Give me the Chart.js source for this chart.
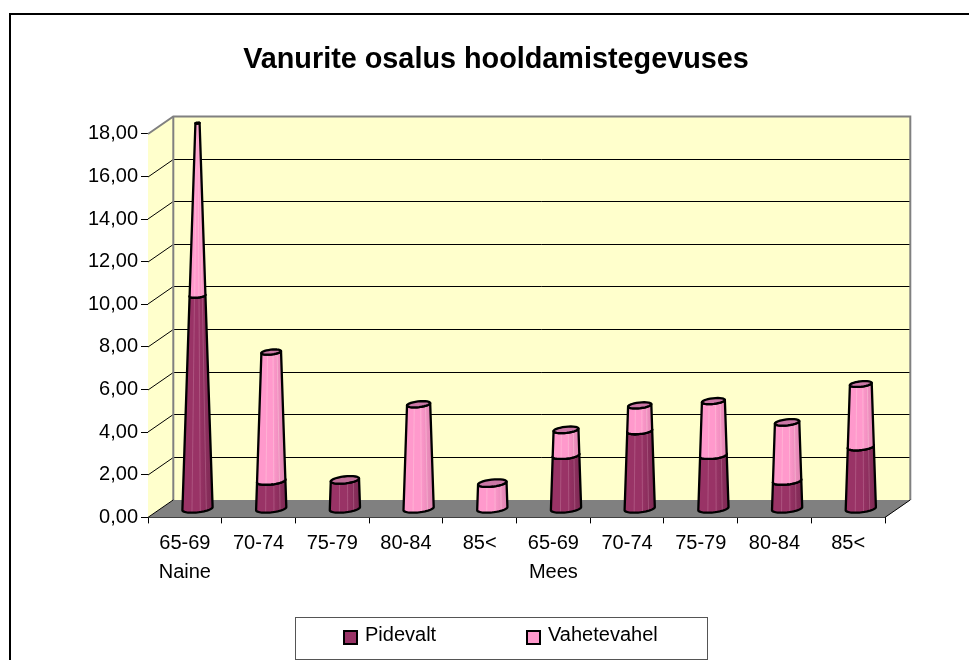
<!DOCTYPE html>
<html><head><meta charset="utf-8">
<style>html,body{margin:0;padding:0;background:#fff}#w{width:969px;height:660px}</style>
<script src="https://cdn.jsdelivr.net/npm/chart.js@4"></script>
</head><body><div id="w"><canvas id="c" width="969" height="660"></canvas></div>
<script>
const ageGroups = ['65-69','70-74','75-79','80-84','85<','65-69','70-74','75-79','80-84','85<'];
const genderLabels = ['Naine','','','','','Mees','','','',''];
const pidevalt = [10.0,1.3,1.35,0,0,2.5,3.65,2.5,1.3,2.9];
const vahetevahel = [8.1,6.05,0,4.9,1.2,1.2,1.2,2.55,2.75,2.95];
const FONT = '"Liberation Sans", Arial, sans-serif';
const labels = ageGroups.map((a,i)=> genderLabels[i] ? [a,genderLabels[i]] : [a]);
const DX = 25.3, DY = -17.5, TAPER = 21, KA = 0.42, KB = 0.29;

function circlePt(cx,cy,r,t){ return [cx + r*Math.cos(t) + r*KA*Math.sin(t), cy - r*KB*Math.sin(t)]; }
function arc(p2,cx,cy,r,a,b,first){
  const n=28;
  for(let i=0;i<=n;i++){ const p=circlePt(cx,cy,r,a+(b-a)*i/n);
    if(i===0&&first) p2.moveTo(p[0],p[1]); else p2.lineTo(p[0],p[1]); }
}
function cylinder(ctx,el,yScale,fromV,toV,col){
  const R = el.width/2, cx = el.x + DX/2;
  const y0 = yScale.getPixelForValue(fromV) + DY/2, y1 = yScale.getPixelForValue(toV) + DY/2;
  const r0 = R*(1-fromV/TAPER), r1 = R*(1-toV/TAPER);
  const t0 = Math.atan(KA);
  ctx.save();
  ctx.lineJoin='round'; ctx.lineWidth=2.3; ctx.strokeStyle='#000';
  const body = new Path2D();
  arc(body,cx,y0,r0,Math.PI+t0,2*Math.PI+t0,true);
  arc(body,cx,y1,r1,2*Math.PI+t0,Math.PI+t0,false);
  body.closePath();
  const g = ctx.createLinearGradient(cx-R,0,cx+R,0);
  g.addColorStop(0,col.body); g.addColorStop(0.55,col.body); g.addColorStop(1,col.side);
  ctx.fillStyle=g; ctx.fill(body);
  ctx.save(); ctx.clip(body);
  ctx.lineWidth=1; ctx.strokeStyle=col.stripe;
  [0.3,0.6,0.82].forEach(f=>{ ctx.beginPath();
    ctx.moveTo(cx+(f*2-1)*r0,y0+6); ctx.lineTo(cx+(f*2-1)*r1,y1-6); ctx.stroke(); });
  ctx.restore();
  ctx.stroke(body);
  const cap = new Path2D();
  arc(cap,cx,y1,r1,0,2*Math.PI,true); cap.closePath();
  ctx.fillStyle=col.top; ctx.fill(cap); ctx.stroke(cap);
  ctx.restore();
}
const darkCol = {body:'#993366',side:'#7F2A55',stripe:'rgba(225,170,195,0.28)',top:'#C06E98'};
const pinkCol = {body:'#FF99CC',side:'#DF85B2',stripe:'rgba(255,215,225,0.4)',top:'#CC77A6'};

const scene = {
  id:'scene',
  afterLayout(chart){ chart.titleBlock.left = 107; chart.titleBlock.right = 885; },
  beforeDatasetsDraw(chart){
    const {ctx,chartArea:a,scales:{y}} = chart;
    ctx.save();
    // outer frame
    ctx.strokeStyle='#000'; ctx.lineWidth=2;
    ctx.beginPath(); ctx.moveTo(10,660); ctx.lineTo(10,14); ctx.lineTo(969,14); ctx.stroke();
    const L=a.left,R=a.right,T=a.top,B=a.bottom;
    // walls
    ctx.fillStyle='#FFFFCC';
    ctx.beginPath(); ctx.moveTo(L+DX,T+DY); ctx.lineTo(R+DX,T+DY); ctx.lineTo(R+DX,B+DY); ctx.lineTo(L+DX,B+DY); ctx.closePath(); ctx.fill();
    ctx.beginPath(); ctx.moveTo(L,T); ctx.lineTo(L+DX,T+DY); ctx.lineTo(L+DX,B+DY); ctx.lineTo(L,B); ctx.closePath(); ctx.fill();
    // floor
    ctx.fillStyle='#808080';
    ctx.beginPath(); ctx.moveTo(L,B); ctx.lineTo(L+DX,B+DY); ctx.lineTo(R+DX,B+DY); ctx.lineTo(R,B); ctx.closePath(); ctx.fill();
    // gridlines
    ctx.strokeStyle='#000'; ctx.lineWidth=1;
    y.ticks.forEach(t=>{
      if(t.value===0||t.value===18) return;
      const p=Math.round(y.getPixelForValue(t.value));
      ctx.beginPath(); ctx.moveTo(L,p); ctx.lineTo(L+DX,p+DY); ctx.lineTo(R+DX,p+DY); ctx.stroke();
    });
    // wall outlines
    ctx.strokeStyle='#808080'; ctx.lineWidth=2;
    ctx.beginPath(); ctx.moveTo(L,T); ctx.lineTo(L+DX,T+DY); ctx.lineTo(R+DX,T+DY); ctx.lineTo(R+DX,B+DY); ctx.stroke();
    ctx.beginPath(); ctx.moveTo(L+DX,T+DY); ctx.lineTo(L+DX,B+DY); ctx.stroke();
    ctx.strokeStyle='#000'; ctx.lineWidth=1;
    ctx.beginPath(); ctx.moveTo(L,B); ctx.lineTo(L+DX,B+DY); ctx.moveTo(R,B); ctx.lineTo(R+DX,B+DY); ctx.stroke();
    ctx.restore();
  },
  afterDatasetsDraw(chart){
    const {ctx,scales:{y}} = chart;
    const m0=chart.getDatasetMeta(0), m1=chart.getDatasetMeta(1);
    ageGroups.forEach((_,i)=>{
      if(pidevalt[i]>0) cylinder(ctx,m0.data[i],y,0,pidevalt[i],darkCol);
      if(vahetevahel[i]>0) cylinder(ctx,m1.data[i],y,pidevalt[i],pidevalt[i]+vahetevahel[i],pinkCol);
    });
    // legend
    ctx.save();
    ctx.fillStyle='#fff'; ctx.strokeStyle='#555'; ctx.lineWidth=1;
    ctx.fillRect(295.5,617.5,412,42); ctx.strokeRect(295.5,617.5,412,42);
    ctx.font='20px '+FONT; ctx.textBaseline='middle'; ctx.textAlign='left';
    [[344,darkCol.body,chart.data.datasets[0].label],[527,pinkCol.body,chart.data.datasets[1].label]].forEach(([x,c,t])=>{
      ctx.fillStyle=c; ctx.strokeStyle='#000'; ctx.lineWidth=2;
      ctx.fillRect(x,631,13,13); ctx.strokeRect(x,631,13,13);
      ctx.fillStyle='#000'; ctx.fillText(t,x+21,635);
    });
    ctx.restore();
  }
};

new Chart(document.getElementById('c'),{
  type:'bar',
  data:{labels,datasets:[
    {label:'Pidevalt',data:pidevalt,backgroundColor:'transparent',borderWidth:0},
    {label:'Vahetevahel',data:vahetevahel,backgroundColor:'transparent',borderWidth:0}
  ]},
  options:{
    responsive:false,animation:false,
    events:[],
    layout:{padding:{left:48,right:84,top:14,bottom:0}},
    datasets:{bar:{categoryPercentage:1,barPercentage:0.378}},
    plugins:{
      legend:{display:false},tooltip:{enabled:false},
      title:{display:true,text:'Vanurite osalus hooldamistegevuses',color:'#000',
        font:{family:FONT,size:28.8,weight:'bold',lineHeight:1.2},padding:{top:28.7,bottom:56.7}}
    },
    scales:{
      x:{stacked:true,
        afterFit(s){s.height=142.6;},
        grid:{display:true,drawOnChartArea:false,drawTicks:true,tickLength:6,color:'#000',offset:true},
        border:{color:'#000',width:1},
        ticks:{color:'#000',autoSkip:false,maxRotation:0,minRotation:0,padding:6,font:{family:FONT,size:20,lineHeight:1.45}}},
      y:{stacked:true,min:0,max:18,
        afterFit(s){s.width=100;},
        grid:{display:true,drawOnChartArea:false,drawTicks:true,tickLength:7,color:'#000'},
        border:{color:'#000',width:1},
        ticks:{color:'#000',stepSize:2,padding:3,font:{family:FONT,size:20},
          callback:v=>v.toFixed(2).replace('.',',')}}
    }
  },
  plugins:[scene]
});
</script></body></html>
